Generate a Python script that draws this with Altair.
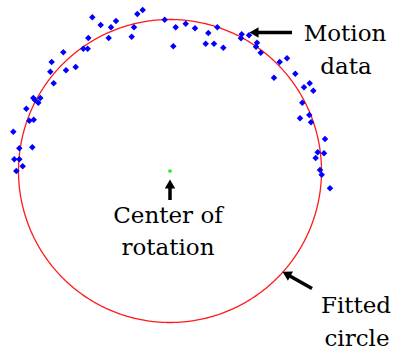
import altair as alt
import numpy as np
import pandas as pd

# Measured motion samples (x, y in image-plane units, y grows downward)
motion_x = [92.3, 100.7, 111.0, 116.0, 108.7, 137.3, 142.7, 134.0, 131.7, 164.7,
            175.7, 173.3, 185.7, 195.0, 88.3, 83.3, 87.7, 63.3, 51.7, 50.3,
            66.0, 75.7, 53.7, 33.3, 40.3, 38.3, 26.3, 35.0, 29.3, 33.7,
            13.3, 19.3, 32.3, 14.3, 19.3, 22.7, 16.3,
            208.3, 217.3, 205.7, 214.0, 223.3, 241.7, 241.0, 249.0, 257.0, 256.0,
            260.7, 279.7, 287.0, 274.0, 295.3, 304.0, 309.7, 313.3, 302.3, 309.3,
            300.0, 311.0, 325.0, 317.7, 324.0, 315.7, 320.0, 321.7, 330.0]
motion_y = [17.3, 25.0, 27.3, 21.0, 38.0, 14.0, 10.0, 27.3, 36.7, 19.7,
            27.3, 46.3, 23.7, 28.3, 38.0, 48.7, 48.7, 52.3, 62.0, 71.7,
            70.3, 67.0, 83.3, 98.0, 98.0, 102.7, 108.7, 100.0, 120.7, 119.7,
            131.7, 148.3, 147.3, 159.3, 159.3, 166.3, 171.0,
            33.0, 27.3, 43.7, 43.7, 47.7, 34.3, 38.3, 35.3, 42.7, 46.7,
            52.7, 62.0, 58.3, 77.7, 73.7, 87.3, 83.3, 90.7, 102.7, 115.0,
            118.3, 122.3, 139.0, 152.3, 153.3, 158.0, 170.0, 174.7, 188.3]

# Fitted circle parameters
center_x = [170.0]
center_y = [171.0]
fit_radius = 151.5

# Annotation lines: text, x, baseline y
label_text = ["Motion", "data", "Center of", "rotation", "Fitted", "circle"]
label_x = [345.0, 346.0, 168.0, 168.0, 356.0, 357.0]
label_y = [41.0, 74.0, 223.0, 255.0, 313.0, 346.0]

# Arrow shafts (x, y) -> (x2, y2) and arrowhead tips
shaft_x = [292.0, 170.0, 312.0]
shaft_y = [32.5, 200.0, 288.5]
shaft_x2 = [256.0, 170.0, 289.0]
shaft_y2 = [32.5, 186.0, 275.5]
head_x = [254.0, 170.0, 286.5]
head_y = [32.5, 184.0, 274.0]
head_angle = [270, 0, 299]

W, H = 394, 355
xs = alt.Scale(domain=[0, W], range=[0, W], nice=False, zero=False)
ys = alt.Scale(domain=[0, H], range=[0, H], nice=False, zero=False)

motion = pd.DataFrame({"x": motion_x, "y": motion_y})
t = np.linspace(0, 2 * np.pi, 721)
circle = pd.DataFrame({
    "x": center_x[0] + fit_radius * np.cos(t),
    "y": center_y[0] + fit_radius * np.sin(t),
    "i": np.arange(len(t)),
})
center = pd.DataFrame({"x": center_x, "y": center_y})
labels = pd.DataFrame({"t": label_text, "x": label_x, "y": label_y})
shafts = pd.DataFrame({"x": shaft_x, "y": shaft_y, "x2": shaft_x2, "y2": shaft_y2})
heads = pd.DataFrame({"x": head_x, "y": head_y, "a": head_angle})

X = alt.X("x:Q", scale=xs, axis=None)
Y = alt.Y("y:Q", scale=ys, axis=None)

fit_line = alt.Chart(circle).mark_line(color="#ff1a1a", strokeWidth=1.3).encode(
    x=X, y=Y, order="i:Q")

points = alt.Chart(motion).mark_point(
    shape="diamond", filled=True, color="#0000ff", size=42, opacity=1).encode(x=X, y=Y)

center_pt = alt.Chart(center).mark_point(
    shape="circle", filled=True, color="#22ee22", size=14, opacity=1).encode(x=X, y=Y)

shaft_rules = alt.Chart(shafts).mark_rule(color="black", strokeWidth=3.5).encode(
    x=X, y=Y, x2="x2:Q", y2="y2:Q")

arrow_heads = alt.Chart(heads).mark_point(
    shape="triangle-up", filled=True, color="black", size=110, opacity=1).encode(
    x=X, y=Y, angle=alt.Angle("a:Q", scale=None))

texts = alt.Chart(labels).mark_text(
    font="DejaVu Serif", fontSize=23, color="black", align="center",
    baseline="alphabetic").encode(x=X, y=Y, text="t:N")

chart = alt.layer(fit_line, points, center_pt, shaft_rules, arrow_heads, texts).properties(
    width=W, height=H, padding=0, autosize=alt.AutoSizeParams(type="none"),
    background="white",
).configure_view(stroke=None)

chart.save("out.html", embed_options={"renderer": "svg", "actions": False})
